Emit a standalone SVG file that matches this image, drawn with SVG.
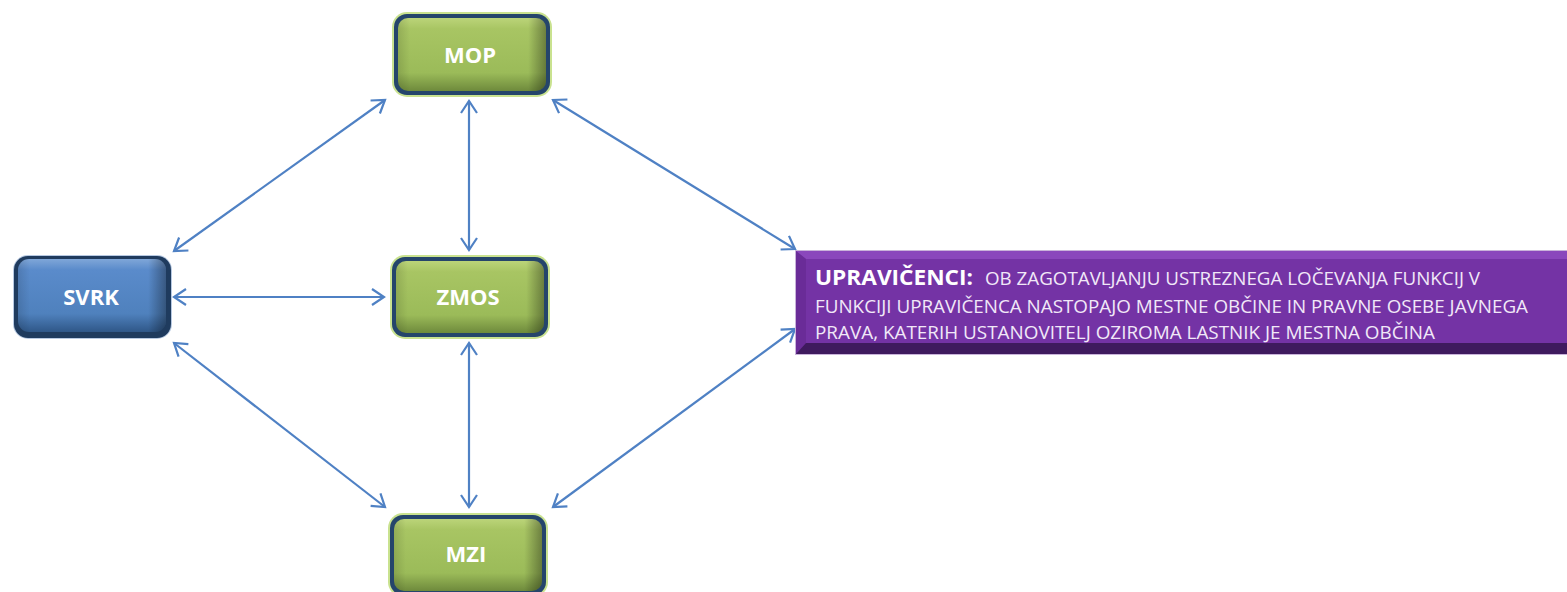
<svg xmlns="http://www.w3.org/2000/svg" width="1567" height="592" viewBox="0 0 1567 592">
<style>
.conn{stroke:#4F81C4;stroke-width:2.2;fill:none;marker-start:url(#ah);marker-end:url(#ah)}
.glow{fill:#C9E28F}
.gborder{fill:#25456B}
.bborder{fill:#1F3B5E}
.gfill{fill:url(#gGrad)}
.bfill{fill:url(#bGrad)}
.label{font-family:"Open Sans","Liberation Sans",sans-serif;font-weight:bold;font-size:22px;fill:#FFFFFF;text-anchor:middle}
.ptitle{font-family:"Open Sans","Liberation Sans",sans-serif;font-weight:bold;font-size:21px;fill:#FFFFFF}
.ptext{font-family:"Open Sans","Liberation Sans",sans-serif;font-size:18px;fill:#F1E8F8}
</style>
<defs>
<marker id="ah" markerUnits="userSpaceOnUse" markerWidth="30" markerHeight="30" viewBox="-15 -15 30 30" refX="0" refY="0" orient="auto-start-reverse">
<path d="M-12,-8 L0,0 L-12,8" fill="none" stroke="#4F81C4" stroke-width="2.2"/>
</marker>
<linearGradient id="gGrad" x1="0" y1="0" x2="0" y2="1">
<stop offset="0" stop-color="#BBD479"/>
<stop offset="0.15" stop-color="#A8C563"/>
<stop offset="0.75" stop-color="#9BBB59"/>
<stop offset="1" stop-color="#6E8A3C"/>
</linearGradient>
<linearGradient id="bGrad" x1="0" y1="0" x2="0" y2="1">
<stop offset="0" stop-color="#7FA6D8"/>
<stop offset="0.15" stop-color="#5A8BCB"/>
<stop offset="0.75" stop-color="#4F81BD"/>
<stop offset="1" stop-color="#2F5788"/>
</linearGradient>
<linearGradient id="sideShade" x1="0" y1="0" x2="1" y2="0">
<stop offset="0" stop-color="#000" stop-opacity="0.12"/>
<stop offset="0.08" stop-color="#000" stop-opacity="0"/>
<stop offset="0.88" stop-color="#000" stop-opacity="0"/>
<stop offset="1" stop-color="#000" stop-opacity="0.35"/>
</linearGradient>
<linearGradient id="pGrad" x1="0" y1="0" x2="0" y2="1">
<stop offset="0" stop-color="#7B36AC"/>
<stop offset="1" stop-color="#7030A0"/>
</linearGradient>
</defs>

<g id="connectors">
<line class="conn" x1="385" y1="100" x2="174" y2="251"/>
<line class="conn" x1="469" y1="101" x2="469" y2="250"/>
<line class="conn" x1="553" y1="100" x2="795" y2="249"/>
<line class="conn" x1="174" y1="297" x2="384" y2="297"/>
<line class="conn" x1="174" y1="343" x2="385" y2="507"/>
<line class="conn" x1="469" y1="343" x2="469" y2="507"/>
<line class="conn" x1="795" y1="329" x2="553" y2="507"/>
</g>

<g id="MOP">
<rect class="glow" x="392" y="12" width="160" height="85" rx="15"/>
<rect class="gborder" x="394" y="14" width="156" height="81" rx="13"/>
<rect class="gfill" x="398" y="18" width="148" height="73" rx="10"/>
<rect fill="url(#sideShade)" x="398" y="18" width="148" height="73" rx="10"/>
<text class="label" x="470" y="63">MOP</text>
</g>

<g id="SVRK">
<rect fill="#B7C9E2" x="13" y="255" width="159" height="84" rx="15"/>
<rect class="bborder" x="14" y="256" width="157" height="82" rx="14"/>
<rect class="bfill" x="18" y="259" width="148" height="73" rx="11"/>
<rect fill="url(#sideShade)" x="18" y="259" width="148" height="73" rx="11"/>
<text class="label" x="91" y="305">SVRK</text>
</g>

<g id="ZMOS">
<rect class="glow" x="390" y="255" width="160" height="84" rx="15"/>
<rect class="gborder" x="392" y="257" width="156" height="80" rx="13"/>
<rect class="gfill" x="396" y="261" width="148" height="72" rx="10"/>
<rect fill="url(#sideShade)" x="396" y="261" width="148" height="72" rx="10"/>
<text class="label" x="468" y="305">ZMOS</text>
</g>

<g id="MZI">
<rect class="glow" x="388" y="513" width="160" height="84" rx="15"/>
<rect class="gborder" x="390" y="515" width="156" height="80" rx="13"/>
<rect class="gfill" x="394" y="519" width="148" height="72" rx="10"/>
<rect fill="url(#sideShade)" x="394" y="519" width="148" height="72" rx="10"/>
<text class="label" x="466" y="562">MZI</text>
</g>

<g id="UPRAVICENCI">
<rect x="795" y="250" width="772" height="105" fill="#C9B3DA"/>
<rect x="796" y="251" width="771" height="103" fill="url(#pGrad)"/>
<polygon points="796,251 1567,251 1567,259 806,259" fill="#8A47BC"/>
<polygon points="796,251 806,259 806,343 796,354" fill="#6A2C98"/>
<polygon points="796,354 806,343 1567,343 1567,354" fill="#3F1A5E"/>
<rect x="806" y="259" width="761" height="84" fill="#7433A5"/>
<text class="ptitle" x="815" y="285" textLength="158" lengthAdjust="spacingAndGlyphs">UPRAVIČENCI:</text>
<text class="ptext" x="985" y="285" textLength="495" lengthAdjust="spacingAndGlyphs">OB ZAGOTAVLJANJU USTREZNEGA LOČEVANJA FUNKCIJ V</text>
<text class="ptext" x="815" y="313" textLength="713" lengthAdjust="spacingAndGlyphs">FUNKCIJI UPRAVIČENCA NASTOPAJO MESTNE OBČINE IN PRAVNE OSEBE JAVNEGA</text>
<text class="ptext" x="815" y="339" textLength="620" lengthAdjust="spacingAndGlyphs">PRAVA, KATERIH USTANOVITELJ OZIROMA LASTNIK JE MESTNA OBČINA</text>
</g>
</svg>
